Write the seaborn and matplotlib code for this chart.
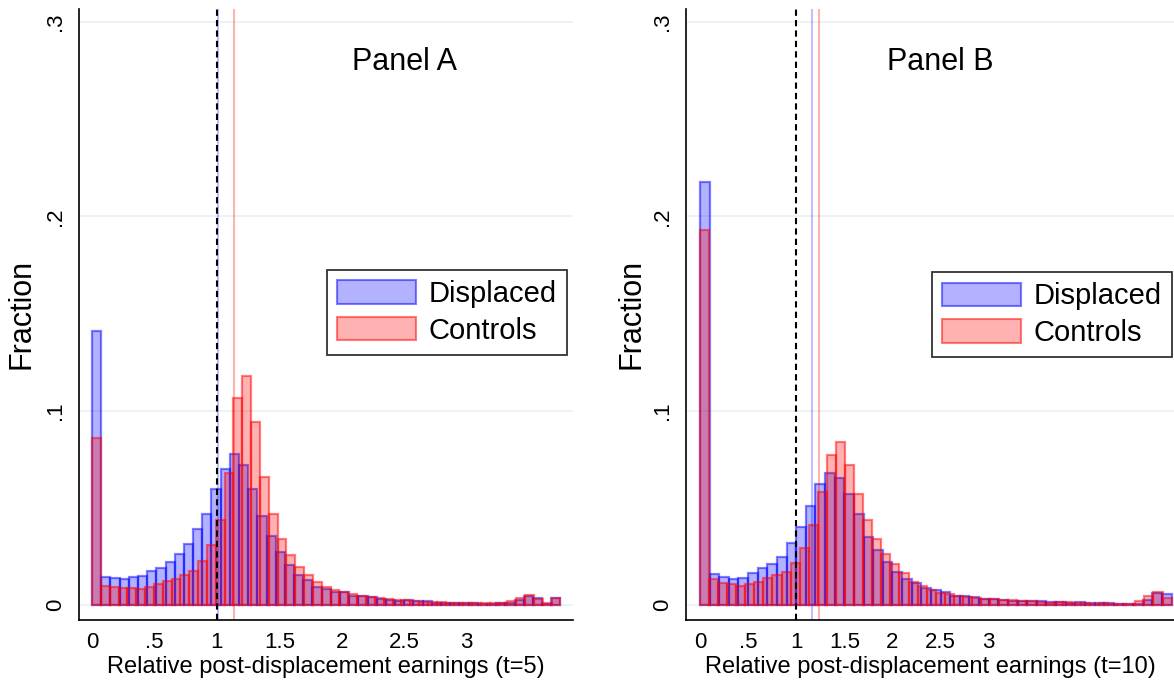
import numpy as np
import pandas as pd
import seaborn as sns
import matplotlib.pyplot as plt
from matplotlib.patches import Patch

# Panel A (t=5): fraction per bin, bins span 0..3.75
a_range = 3.75
a_displaced = [0.141, 0.0146, 0.0138, 0.0133, 0.0143, 0.015, 0.0175, 0.019, 0.022, 0.026,
               0.0315, 0.039, 0.047, 0.0597, 0.070, 0.0775, 0.072, 0.0595, 0.046, 0.0357,
               0.027, 0.0206, 0.0153, 0.013, 0.0093, 0.0083, 0.0065, 0.0065, 0.0047, 0.0044,
               0.0039, 0.0033, 0.0026, 0.0021, 0.0023, 0.0018, 0.0018, 0.0012, 0.0012, 0.0012,
               0.0012, 0.0012, 0.0007, 0.0007, 0.0012, 0.0009, 0.0026, 0.0044, 0.0035, 0.0003,
               0.0038]
a_controls = [0.086, 0.0096, 0.0091, 0.0088, 0.0088, 0.0082, 0.0093, 0.0108, 0.0125, 0.0134,
              0.0155, 0.0175, 0.0225, 0.0307, 0.0438, 0.068, 0.1065, 0.118, 0.094, 0.066,
              0.047, 0.034, 0.0256, 0.0196, 0.0153, 0.012, 0.0093, 0.0076, 0.0065, 0.0055,
              0.0048, 0.0042, 0.0036, 0.0031, 0.0027, 0.0023, 0.0020, 0.0017, 0.0015, 0.0013,
              0.0012, 0.0011, 0.0010, 0.0009, 0.0008, 0.0008, 0.0010, 0.0020, 0.0035, 0.0052,
              0.0030, 0.0008, 0.0036]
a_means = [1.005, 1.137]

# Panel B (t=10): bins span 0..4.9
b_range = 4.9
b_displaced = [0.2177, 0.0158, 0.0143, 0.0136, 0.0137, 0.0162, 0.0189, 0.0213, 0.0249, 0.0321,
               0.040, 0.0507, 0.0622, 0.0679, 0.0653, 0.0572, 0.0467, 0.0352, 0.0284, 0.022,
               0.0167, 0.0132, 0.0115, 0.0086, 0.0075, 0.0065, 0.0047, 0.0044, 0.0039, 0.0033,
               0.003, 0.0025, 0.0021, 0.0021, 0.0021, 0.0018, 0.0016, 0.0016, 0.0012, 0.0016,
               0.0012, 0.0012, 0.001, 0.0007, 0.0005, 0.0005, 0.0026, 0.0062, 0.0056]
b_controls = [0.193, 0.0132, 0.0112, 0.0107, 0.0100, 0.0107, 0.012, 0.0141, 0.0155, 0.0168,
              0.0215, 0.0292, 0.0409, 0.0579, 0.077, 0.0837, 0.072, 0.057, 0.0435, 0.0338,
              0.0261, 0.021, 0.0163, 0.012, 0.0098, 0.0077, 0.006, 0.0055, 0.0048, 0.0042,
              0.0037, 0.0033, 0.0029, 0.0026, 0.0023, 0.0020, 0.0018, 0.0016, 0.0008, 0.0015,
              0.0013, 0.0010, 0.0010, 0.0004, 0.0008, 0.0007, 0.0006, 0.0005, 0.0020, 0.0045,
              0.0068, 0.0035]
b_means = [1.16, 1.232]

x_ticks = [0, 0.5, 1, 1.5, 2, 2.5, 3]
x_ticklabels = ['0', '.5', '1', '1.5', '2', '2.5', '3']
y_ticks = [0, 0.1, 0.2, 0.3]
y_ticklabels = ['0', '.1', '.2', '.3']

sns.set_style('white')
plt.rcParams['font.family'] = ['Liberation Sans', 'DejaVu Sans']
plt.rcParams['text.color'] = 'black'
plt.rcParams['axes.labelcolor'] = 'black'
plt.rcParams['xtick.color'] = 'black'
plt.rcParams['ytick.color'] = 'black'

BLUE_FILL, BLUE_EDGE = (0, 0, 1, 0.3), (0, 0, 1, 0.5)
RED_FILL, RED_EDGE = (1, 0, 0, 0.3), (1, 0, 0, 0.5)


def hist_from_fractions(ax, fractions, xmax, face, edge):
    '''draw a precomputed histogram through seaborn using weights'''
    edges = np.linspace(0, xmax, len(fractions) + 1)
    centers = (edges[:-1] + edges[1:]) / 2
    df = pd.DataFrame({'x': centers, 'w': fractions})
    sns.histplot(data=df, x='x', weights='w', bins=edges.tolist(), stat='count', ax=ax,
                 facecolor=face, edgecolor=edge, linewidth=1.6)


def draw_panel(ax, displaced, controls, xmax, means, xlim, title, xlabel, legend_anchor, ylab_x):
    ax.yaxis.grid(True, color='#eaf0f2', linewidth=1.2, zorder=0)
    ax.set_axisbelow(True)
    hist_from_fractions(ax, displaced, xmax, BLUE_FILL, BLUE_EDGE)
    hist_from_fractions(ax, controls, xmax, RED_FILL, RED_EDGE)

    ax.axvline(means[0], color=(0, 0, 1, 0.25), linewidth=1.5)
    ax.axvline(means[1], color=(1, 0, 0, 0.3), linewidth=1.5)
    ax.axvline(1, color='black', linestyle=(0, (3, 2)), linewidth=1.5)

    ax.set_xlim(*xlim)
    ax.set_ylim(-0.0075, 0.3067)
    ax.set_xticks(x_ticks)
    ax.set_xticklabels(x_ticklabels, fontsize=16)
    ax.set_yticks(y_ticks)
    ax.set_yticklabels(y_ticklabels, fontsize=16, rotation=90, va='center')
    ax.tick_params(axis='both', direction='out', length=5, width=1, color='black', pad=4)

    sns.despine(ax=ax)
    for side in ['left', 'bottom']:
        ax.spines[side].set_color('black')
        ax.spines[side].set_linewidth(1.2)

    ax.set_xlabel(xlabel, fontsize=17, labelpad=2)
    ax.set_ylabel('Fraction', fontsize=22)
    ax.yaxis.set_label_coords(ylab_x, 0.5)
    ax.text(2.5, 0.2795, title, fontsize=22, ha='center', va='center')

    handles = [Patch(facecolor=BLUE_FILL, edgecolor=BLUE_EDGE, linewidth=1.5, label='Displaced'),
               Patch(facecolor=RED_FILL, edgecolor=RED_EDGE, linewidth=1.5, label='Controls')]
    leg = ax.legend(handles=handles, loc='upper right', bbox_to_anchor=legend_anchor,
                    fontsize=21, frameon=True, fancybox=False, handlelength=2.7,
                    handleheight=0.85, handletextpad=0.45, borderpad=0.35,
                    labelspacing=0.3, borderaxespad=0)
    leg.get_frame().set_edgecolor('black')
    leg.get_frame().set_linewidth(1.3)


fig = plt.figure(figsize=(11.74, 6.81), dpi=100)
ax_a = fig.add_axes([0.0669, 0.0903, 0.4211, 0.8965])
ax_b = fig.add_axes([0.5843, 0.0903, 0.4157, 0.8965])

draw_panel(ax_a, a_displaced, a_controls, a_range, a_means, (-0.108, 3.85),
           'Panel A', 'Relative post-displacement earnings (t=5)', (0.988, 0.5725), -0.086)
draw_panel(ax_b, b_displaced, b_controls, b_range, b_means, (-0.145, 4.925),
           'Panel B', 'Relative post-displacement earnings (t=10)', (0.996, 0.569), -0.08)

fig.savefig('out.png', dpi=100)
